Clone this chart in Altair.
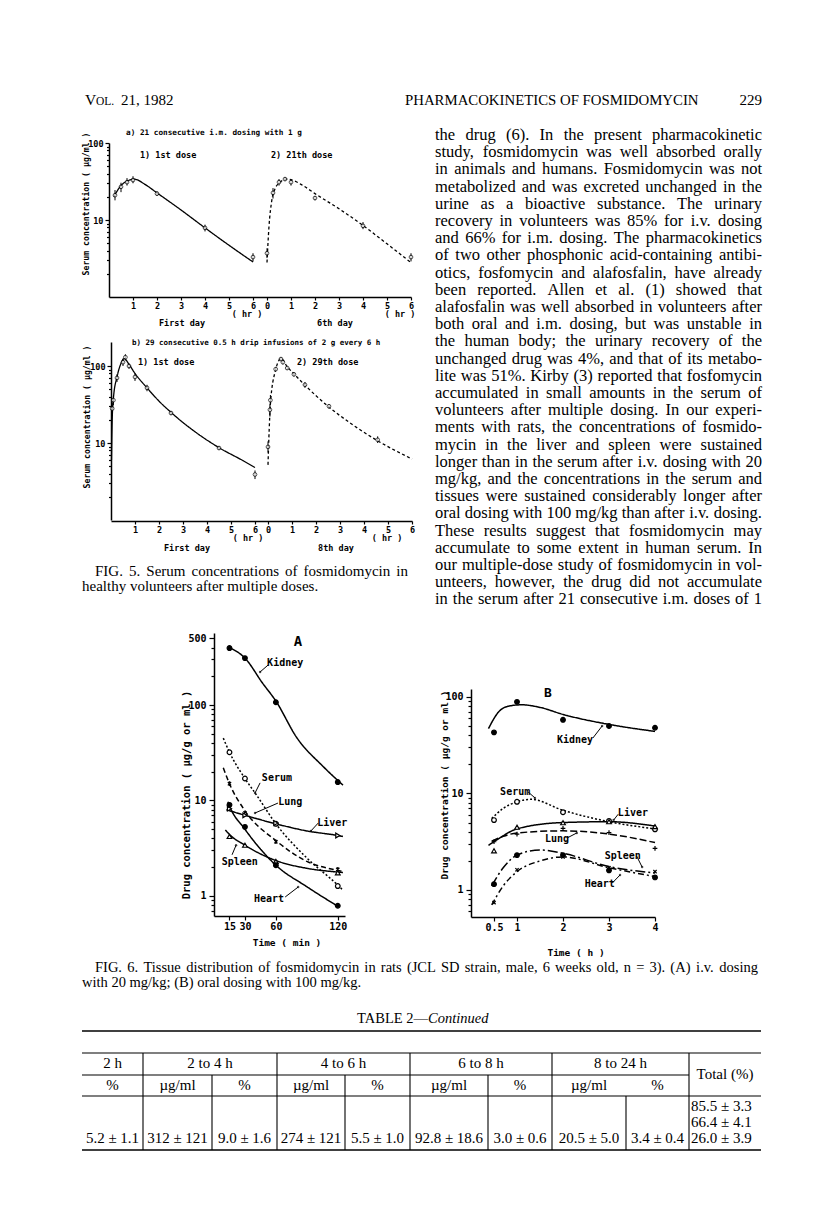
import altair as alt
import pandas as pd
import math

# ============================ DATA ============================
# Fig. 5a - serum (ug/ml) vs time (hr): 21 consecutive i.m. doses of 1 g
f5a_first_t = [0.25, 0.5, 0.75, 1.0, 2.0, 4.0, 6.0]
f5a_first_v = [21, 27, 31, 33, 22, 7.9, 3.3]
f5a_first_lo = [18, 23, 28, 30, 20.5, 7.1, 2.9]
f5a_first_hi = [24.5, 30.5, 35, 37, 23.5, 8.7, 3.7]
f5a_first_fit_t = [0.2, 0.5, 0.8, 1.05, 1.5, 2.0, 3.0, 4.0, 5.0, 6.0]
f5a_first_fit_v = [20, 28, 32.5, 34, 29, 22.5, 13.5, 7.9, 4.7, 2.85]
f5a_last_t = [0.0, 0.25, 0.5, 0.75, 1.0, 2.0, 4.0, 6.0]
f5a_last_v = [3.7, 22.5, 31, 34, 31, 19.3, 8.4, 3.3]
f5a_last_lo = [3.2, 19, 28, 32, 28, 18, 7.6, 2.9]
f5a_last_hi = [4.3, 26, 34, 36, 34, 20.5, 9.4, 3.7]
f5a_last_fit_t = [0.0, 0.08, 0.2, 0.35, 0.55, 0.8, 1.05, 1.5, 2.0, 3.0, 4.0, 5.0, 6.0]
f5a_last_fit_v = [2.8, 8, 18, 26, 31, 34, 33, 28, 22, 14, 8.5, 4.9, 2.8]

# Fig. 5b - 29 consecutive 0.5 h drip infusions of 2 g every 6 h
f5b_first_t = [0.05, 0.1, 0.25, 0.5, 0.6, 0.75, 1.0, 1.5, 2.5, 4.5, 6.0]
f5b_first_v = [28, 36, 70, 112, 130, 100, 72, 52, 24.5, 8.6, 3.9]
f5b_first_lo = [23, 31, 62, 100, 118, 92, 64, 47, 23, 8.1, 3.4]
f5b_first_hi = [33, 41, 78, 124, 142, 108, 80, 57, 26, 9.1, 4.4]
f5b_first_fit_t = [0.02, 0.05, 0.1, 0.25, 0.4, 0.55, 0.75, 1.0, 1.5, 2.0, 2.5, 3.5, 4.5, 5.5, 6.0]
f5b_first_fit_v = [6, 20, 38, 72, 105, 125, 105, 80, 52, 35, 25, 14, 8.7, 5.9, 4.8]
f5b_last_t = [0.0, 0.08, 0.1, 0.32, 0.54, 0.62, 0.8, 1.08, 1.54, 2.54, 4.57]
f5b_last_v = [8.9, 27, 36, 91, 123, 112, 94, 78, 57, 30, 11]
f5b_last_lo = [7.5, 22, 31, 85, 116, 105, 89, 73, 52, 28, 10]
f5b_last_hi = [10.5, 32, 42, 97, 130, 119, 99, 83, 62, 32, 12.2]
f5b_last_fit_t = [0.0, 0.05, 0.1, 0.3, 0.55, 0.8, 1.1, 1.5, 2.5, 3.5, 4.5, 6.0]
f5b_last_fit_v = [5.2, 15, 32, 85, 125, 98, 78, 58, 30, 17.5, 11, 6.2]

# Fig. 6A - i.v. 20 mg/kg, time (min)
f6a_time = [15, 30, 60, 120]
f6a_values = {
    "Kidney": [395, 310, 107, 15.6],
    "Serum": [32, 17, 5.7, 1.27],
    "Lung": [15, 7.4, 3.7, 1.9],
    "Liver": [8.2, 7.0, 5.8, 4.3],
    "Spleen": [4.2, 3.4, 2.3, 1.75],
    "Heart": [9.0, 5.3, 2.1, 0.79],
}
f6a_fit_t = {
    "Kidney": [15, 30, 47, 60, 80, 106, 125],
    "Serum": [9, 15, 30, 41, 60, 90, 120, 125],
    "Lung": [9, 15, 30, 60, 90, 120, 125],
    "Liver": [12, 30, 60, 90, 120, 125],
    "Spleen": [11, 15, 30, 60, 90, 120, 125],
    "Heart": [13.5, 15, 30, 60, 90, 120],
}
f6a_fit_v = {
    "Kidney": [400, 310, 170, 110, 46, 22.6, 14.5],
    "Serum": [45, 32, 17, 11.5, 5.7, 2.5, 1.3, 1.15],
    "Lung": [22, 15, 7.8, 3.8, 2.3, 1.85, 1.8],
    "Liver": [8.0, 7.0, 5.7, 4.8, 4.3, 4.2],
    "Spleen": [4.9, 4.4, 3.4, 2.35, 1.95, 1.78, 1.76],
    "Heart": [9.7, 8.8, 5.0, 2.1, 1.25, 0.78],
}

# Fig. 6B - oral 100 mg/kg, time (h)
f6b_time = [0.5, 1, 2, 3, 4]
f6b_values = {
    "Kidney": [43, 89, 58, 50, 48],
    "Serum": [5.3, 8.2, 6.4, 5.2, 4.25],
    "Liver": [2.55, 4.47, 4.98, 5.1, 4.53],
    "Lung": [3.16, 3.8, 4.35, 3.93, 2.7],
    "Spleen": [1.15, 2.3, 2.3, 1.6, 1.35],
    "Heart": [0.74, 1.62, 2.2, 1.7, 1.55],
}
f6b_fit_t = {
    "Kidney": [0.38, 0.6, 0.8, 1.1, 1.5, 2.0, 3.0, 4.0],
    "Serum": [0.45, 0.7, 1.0, 1.3, 2.0, 3.0, 4.0],
    "Liver": [0.38, 0.6, 1.0, 2.0, 3.0, 4.0],
    "Lung": [0.45, 0.7, 1.0, 2.0, 3.0, 4.0],
    "Spleen": [0.45, 0.7, 1.0, 1.5, 2.0, 3.0, 4.0],
    "Heart": [0.45, 0.7, 1.0, 1.5, 2.0, 3.0, 4.0],
}
f6b_fit_v = {
    "Kidney": [47, 70, 80, 83, 78, 66, 52, 44],
    "Serum": [5.5, 7.0, 8.2, 8.7, 6.7, 5.1, 4.3],
    "Liver": [2.9, 3.4, 4.3, 5.0, 5.1, 4.6],
    "Lung": [3.2, 3.6, 3.9, 4.1, 3.8, 3.1],
    "Spleen": [1.1, 1.7, 2.3, 2.6, 2.4, 1.75, 1.5],
    "Heart": [0.7, 1.1, 1.55, 2.0, 2.2, 1.7, 1.38],
}

# Text
header_left = ["V", "OL.", "21, 1982"]
header_mid = "PHARMACOKINETICS OF FOSMIDOMYCIN"
header_page = "229"
body_lines = [
    "the drug (6). In the present pharmacokinetic",
    "study, fosmidomycin was well absorbed orally",
    "in animals and humans. Fosmidomycin was not",
    "metabolized and was excreted unchanged in the",
    "urine as a bioactive substance. The urinary",
    "recovery in volunteers was 85% for i.v. dosing",
    "and 66% for i.m. dosing. The pharmacokinetics",
    "of two other phosphonic acid-containing antibi-",
    "otics, fosfomycin and alafosfalin, have already",
    "been reported. Allen et al. (1) showed that",
    "alafosfalin was well absorbed in volunteers after",
    "both oral and i.m. dosing, but was unstable in",
    "the human body; the urinary recovery of the",
    "unchanged drug was 4%, and that of its metabo-",
    "lite was 51%. Kirby (3) reported that fosfomycin",
    "accumulated in small amounts in the serum of",
    "volunteers after multiple dosing. In our experi-",
    "ments with rats, the concentrations of fosmido-",
    "mycin in the liver and spleen were sustained",
    "longer than in the serum after i.v. dosing with 20",
    "mg/kg, and the concentrations in the serum and",
    "tissues were sustained considerably longer after",
    "oral dosing with 100 mg/kg than after i.v. dosing.",
    "These results suggest that fosmidomycin may",
    "accumulate to some extent in human serum. In",
    "our multiple-dose study of fosmidomycin in vol-",
    "unteers, however, the drug did not accumulate",
    "in the serum after 21 consecutive i.m. doses of 1",
]
fig5_caption = ["FIG. 5. Serum concentrations of fosmidomycin in",
                "healthy volunteers after multiple doses."]
fig6_caption = ["FIG. 6. Tissue distribution of fosmidomycin in rats (JCL SD strain, male, 6 weeks old, n = 3). (A) i.v. dosing",
                "with 20 mg/kg; (B) oral dosing with 100 mg/kg."]
table_title = ["TABLE 2\u2014", "Continued"]
table_head1 = ["2 h", "2 to 4 h", "4 to 6 h", "6 to 8 h", "8 to 24 h", "Total (%)"]
table_head2 = ["%", "\u00b5g/ml", "%", "\u00b5g/ml", "%", "\u00b5g/ml", "%", "\u00b5g/ml", "%"]
table_row = ["5.2 \u00b1 1.1", "312 \u00b1 121", "9.0 \u00b1 1.6", "274 \u00b1 121", "5.5 \u00b1 1.0",
             "92.8 \u00b1 18.6", "3.0 \u00b1 0.6", "20.5 \u00b1 5.0", "3.4 \u00b1 0.4"]
table_total = ["85.5 \u00b1 3.3", "66.4 \u00b1 4.1", "26.0 \u00b1 3.9"]

# ============================ LAYOUT ============================
W, H = 800, 1194
MARGIN = 8
def X(p): return p - MARGIN
def Y(p): return p - MARGIN

MONO = "DejaVu Sans Mono"
SERIF = "Liberation Serif"
PLAIN = "'' + datum.value"

TIMES = {}
for ch, w in zip("abcdefghijklmnopqrstuvwxyz",
                 [444, 500, 444, 500, 444, 333, 500, 500, 278, 278, 500, 278, 778, 500, 500, 500, 500, 333, 389, 278, 500, 500, 722, 500, 500, 444]):
    TIMES[ch] = w
for ch, w in zip("ABCDEFGHIJKLMNOPQRSTUVWXYZ",
                 [722, 667, 667, 722, 611, 556, 722, 722, 333, 389, 722, 611, 889, 722, 722, 556, 722, 667, 556, 611, 722, 722, 944, 722, 722, 611]):
    TIMES[ch] = w
for ch in "0123456789":
    TIMES[ch] = 500
TIMES.update({' ': 250, '.': 250, ',': 250, ';': 278, ':': 278, '(': 333, ')': 333, '-': 333,
              '%': 833, '/': 278, '=': 564, '\u00b1': 564, '\u00b5': 500, '\u2014': 1000})

def tw(s, fs):
    return sum(TIMES.get(c, 500) for c in s) * fs / 1000.0

def line_rows(text, x0, x1, y, fs, justify=True):
    words = text.split(' ')
    if not justify or len(words) == 1:
        return [dict(w=text, x=X(x0), y=Y(y), a='left')]
    widths = [tw(w, fs) for w in words]
    gap = (x1 - x0 - sum(widths)) / (len(words) - 1)
    rows, cur = [], x0
    for i, (w, wd) in enumerate(zip(words, widths)):
        if i == 0:
            rows.append(dict(w=w, x=X(x0), y=Y(y), a='left'))
        elif i == len(words) - 1:
            rows.append(dict(w=w, x=X(x1), y=Y(y), a='right'))
        else:
            rows.append(dict(w=w, x=X(cur + wd / 2), y=Y(y), a='center'))
        cur += wd + gap
    return rows

def text_layers(rows, font, size, weight='normal', style='normal'):
    df = pd.DataFrame(rows)
    out = []
    for a in ['left', 'center', 'right']:
        sub = df[df['a'] == a]
        if len(sub) == 0:
            continue
        out.append(alt.Chart(sub).mark_text(align=a, baseline='alphabetic', font=font, fontSize=size,
                                            fontWeight=weight, fontStyle=style, color='black')
                   .encode(x=alt.X('x:Q', scale=None, axis=None),
                           y=alt.Y('y:Q', scale=None, axis=None),
                           text='w:N'))
    return out

def tx(text, x, y, size, font=MONO, align='center', weight='bold', angle=0, style='normal', baseline='middle'):
    return (alt.Chart(pd.DataFrame({'t': [text]}))
            .mark_text(align=align, baseline=baseline, font=font, fontSize=size, fontWeight=weight,
                       fontStyle=style, angle=angle, color='black')
            .encode(text='t:N', x=alt.value(X(x)), y=alt.value(Y(y))))

def bottom_axis(y_page, values, fs, tick=3, pad=1, expr=PLAIN):
    return alt.Axis(orient='bottom', offset=Y(y_page) - H, values=values, title=None, tickSize=tick,
                    labelPadding=pad, labelFontSize=fs, domainWidth=1.5, tickWidth=1.2, labelExpr=expr)

def left_axis(x_page, values, fs, tick=4, pad=2, labels=True, domain=True):
    return alt.Axis(orient='left', offset=-X(x_page), values=values, title=None, tickSize=tick,
                    labelPadding=pad, labelFontSize=fs, labels=labels, domain=domain,
                    domainWidth=1.5, tickWidth=1.2, labelExpr=PLAIN)

layers = []

# ----------------------------- header ---------------------------
layers.append(tx(header_left[0], 85, 105, 15.5, font=SERIF, align='left', weight='normal', baseline='alphabetic'))
layers.append(tx(header_left[1], 96, 105, 11.5, font=SERIF, align='left', weight='normal', baseline='alphabetic'))
layers.append(tx(header_left[2], 121, 105, 15, font=SERIF, align='left', weight='normal', baseline='alphabetic'))
layers.append(tx(header_mid, 405, 105, 14.8, font=SERIF, align='left', weight='normal', baseline='alphabetic'))
layers.append(tx(header_page, 762, 105, 15, font=SERIF, align='right', weight='normal', baseline='alphabetic'))

# ----------------------------- body text ------------------------
body_rows = []
for i, line in enumerate(body_lines):
    body_rows += line_rows(line, 435, 762, 140 + i * 17.2, 16.5)
layers += text_layers(body_rows, SERIF, 16.5)

# ----------------------------- Fig. 5 ---------------------------
def fig5(first, last, x0, day2, y1, dec, ymax, yaxis_x, xaxis_y):
    (ft, fv, flo, fhi, fft, ffv) = first
    (lt, lv, llo, lhi, lft, lfv) = last
    off = (day2 - x0) / 24.0
    xmax = off + 6
    xs = alt.Scale(domain=[0, xmax], range=[X(x0), X(x0 + xmax * 24)], nice=False, zero=False)
    ytop = y1 - math.log10(ymax) * dec
    ys = alt.Scale(type='log', domain=[1, ymax], range=[Y(y1), Y(ytop)], nice=False)
    fit = pd.concat([
        pd.DataFrame({'seg': 'first', 't': fft, 'v': ffv}),
        pd.DataFrame({'seg': 'last', 't': lft, 'v': lfv})])
    fit['tt'] = fit['t'] + fit['seg'].map({'first': 0.0, 'last': off})
    pts = pd.concat([
        pd.DataFrame({'seg': 'first', 't': ft, 'v': fv, 'lo': flo, 'hi': fhi}),
        pd.DataFrame({'seg': 'last', 't': lt, 'v': lv, 'lo': llo, 'hi': lhi})])
    pts['tt'] = pts['t'] + pts['seg'].map({'first': 0.0, 'last': off})
    ticks = [1, 2, 3, 4, 5, 6] + [off + k for k in range(7)]
    expr = f"datum.value > 6.2 ? '' + round(datum.value - {off:.4f}) : '' + round(datum.value)"
    out = []
    out.append(alt.Chart(fit).mark_line(interpolate='monotone', color='black', strokeWidth=1.3).encode(
        x=alt.X('tt:Q', scale=xs, axis=bottom_axis(xaxis_y, ticks, 8.5, tick=3, pad=1, expr=expr)),
        y=alt.Y('v:Q', scale=ys, axis=left_axis(yaxis_x, [10, 100], 8.5, tick=4, pad=2)),
        detail='seg:N',
        strokeDash=alt.StrokeDash('seg:N', scale=alt.Scale(domain=['first', 'last'], range=[[1, 0], [3, 2.5]]), legend=None)))
    out.append(alt.Chart(pts).mark_rule(color='black', strokeWidth=1).encode(
        x=alt.X('tt:Q', scale=xs, axis=None), y=alt.Y('lo:Q', scale=ys, axis=None), y2='hi:Q'))
    out.append(alt.Chart(pts).mark_point(shape='circle', size=14, color='black', fill='white', filled=True,
                                         stroke='black', strokeWidth=1).encode(
        x=alt.X('tt:Q', scale=xs, axis=None), y=alt.Y('v:Q', scale=ys, axis=None)))
    minor = [2, 3, 4, 5, 6, 7, 8, 9, 20, 30, 40, 50, 60, 70, 80, 90]
    out.append(alt.Chart(pts).mark_point(opacity=0).encode(
        x=alt.X('tt:Q', scale=xs, axis=None),
        y=alt.Y('v:Q', scale=ys, axis=left_axis(yaxis_x, minor, 8, tick=2.5, labels=False, domain=False))))
    return out

layers += fig5((f5a_first_t, f5a_first_v, f5a_first_lo, f5a_first_hi, f5a_first_fit_t, f5a_first_fit_v),
               (f5a_last_t, f5a_last_v, f5a_last_lo, f5a_last_hi, f5a_last_fit_t, f5a_last_fit_v),
               x0=109, day2=267, y1=297, dec=77, ymax=100, yaxis_x=109, xaxis_y=297)
layers += fig5((f5b_first_t, f5b_first_v, f5b_first_lo, f5b_first_hi, f5b_first_fit_t, f5b_first_fit_v),
               (f5b_last_t, f5b_last_v, f5b_last_lo, f5b_last_hi, f5b_last_fit_t, f5b_last_fit_v),
               x0=111, day2=268, y1=520, dec=77, ymax=205, yaxis_x=111, xaxis_y=521)

layers += [
    tx("a)  21 consecutive i.m. dosing with 1 g", 126, 133, 7.7, align='left'),
    tx("1) 1st dose", 140, 155, 8.5, align='left'),
    tx("2) 21th dose", 271, 155, 8.5, align='left'),
    tx("( hr )", 247, 314, 8.5), tx("( hr )", 400, 314, 8.5),
    tx("First day", 182, 323, 8.5), tx("6th day", 335, 323, 8.5),
    tx("Serum concentration ( \u00b5g/ml )", 87, 204, 8.2, angle=270),
    tx("b)  29 consecutive 0.5 h drip infusions of 2 g every 6 h", 132, 343, 7.5, align='left'),
    tx("1) 1st dose", 138, 362, 8.5, align='left'),
    tx("2) 29th dose", 297, 362, 8.5, align='left'),
    tx("( hr )", 248, 538, 8.5), tx("( hr )", 387, 538, 8.5),
    tx("First day", 187, 548, 8.5), tx("8th day", 336, 548, 8.5),
    tx("Serum concentration ( \u00b5g/ml )", 88, 417, 8.2, angle=270),
]
cap5 = line_rows(fig5_caption[0], 95, 408, 576, 15) + line_rows(fig5_caption[1], 82, 408, 591, 15, justify=False)
layers += text_layers(cap5, SERIF, 15)

# ----------------------------- Fig. 6 ---------------------------
X_SHAPE = "M-0.7,-0.7L0.7,0.7M-0.7,0.7L0.7,-0.7"
AST_SHAPE = "M-0.7,-0.7L0.7,0.7M-0.7,0.7L0.7,-0.7M0,-1L0,1"
PLUS_SHAPE = "M-1,0L1,0M0,-1L0,1"

def fig6(times, values, fit_t, fit_v, xs, ys, xaxis, yaxis, yminor, dash, shape, fill, labels, leaders):
    order = list(values.keys())
    pts = pd.concat([pd.DataFrame({'s': s, 't': times, 'v': values[s]}) for s in order])
    fit = pd.concat([pd.DataFrame({'s': s, 't': fit_t[s], 'v': fit_v[s]}) for s in order])
    out = []
    out.append(alt.Chart(fit).mark_line(interpolate='monotone', color='black', strokeWidth=1.5).encode(
        x=alt.X('t:Q', scale=xs, axis=xaxis), y=alt.Y('v:Q', scale=ys, axis=yaxis), detail='s:N',
        strokeDash=alt.StrokeDash('s:N', scale=alt.Scale(domain=order, range=[dash[s] for s in order]), legend=None)))
    out.append(alt.Chart(pts).mark_point(size=22, stroke='black', strokeWidth=1.2, opacity=1, filled=True).encode(
        x=alt.X('t:Q', scale=xs, axis=None), y=alt.Y('v:Q', scale=ys, axis=None),
        shape=alt.Shape('s:N', scale=alt.Scale(domain=order, range=[shape[s] for s in order]), legend=None),
        fill=alt.Fill('s:N', scale=alt.Scale(domain=order, range=[fill[s] for s in order]), legend=None)))
    out.append(alt.Chart(pts).mark_point(opacity=0).encode(
        x=alt.X('t:Q', scale=xs, axis=None), y=alt.Y('v:Q', scale=ys, axis=yminor)))
    lab = pd.DataFrame([dict(s=s, t=labels[s][0], v=labels[s][1]) for s in order])
    out.append(alt.Chart(lab).mark_text(font=MONO, fontSize=10, fontWeight='bold', color='black').encode(
        x=alt.X('t:Q', scale=xs, axis=None), y=alt.Y('v:Q', scale=ys, axis=None), text='s:N'))
    ld = pd.DataFrame([dict(s=s, t1=leaders[s][0], v1=leaders[s][1], t2=leaders[s][2], v2=leaders[s][3]) for s in order])
    out.append(alt.Chart(ld).mark_rule(color='black', strokeWidth=1).encode(
        x=alt.X('t1:Q', scale=xs, axis=None), x2='t2:Q',
        y=alt.Y('v1:Q', scale=ys, axis=None), y2='v2:Q'))
    out.append(alt.Chart(ld).mark_point(shape='circle', size=6, filled=True, color='black').encode(
        x=alt.X('t2:Q', scale=xs, axis=None), y=alt.Y('v2:Q', scale=ys, axis=None)))
    return out

# panel A geometry (page px): x 0 min at 214, 1.03 px/min; y decade 95.5 px, 1 at 896
xsA = alt.Scale(domain=[0, 127], range=[X(214), X(345)], nice=False, zero=False)
ysA = alt.Scale(type='log', domain=[0.617, 568], range=[Y(916), Y(633)], nice=False)
minorA = [0.7, 0.8, 0.9, 2, 3, 4, 5, 6, 7, 8, 9, 20, 30, 40, 50, 60, 70, 80, 90, 200, 300, 400]
layers += fig6(f6a_time, f6a_values, f6a_fit_t, f6a_fit_v, xsA, ysA,
               bottom_axis(916, [15, 30, 60, 120], 10, tick=4, pad=1),
               left_axis(214, [1, 10, 100, 500], 10, tick=5, pad=3),
               left_axis(214, minorA, 10, tick=3, labels=False, domain=False),
               dash={"Kidney": [1, 0], "Serum": [2, 2], "Lung": [5, 3], "Liver": [1, 0], "Spleen": [1, 0], "Heart": [1, 0]},
               shape={"Kidney": "circle", "Serum": "circle", "Lung": AST_SHAPE, "Liver": "triangle-right",
                      "Spleen": "triangle-up", "Heart": "circle"},
               fill={"Kidney": "black", "Serum": "white", "Lung": "white", "Liver": "white", "Spleen": "white", "Heart": "black"},
               labels={"Kidney": (69, 275), "Serum": (61, 17.2), "Lung": (74, 9.6), "Liver": (114.6, 5.8),
                       "Spleen": (25, 2.27), "Heart": (53.4, 0.93)},
               leaders={"Kidney": (52.4, 262, 44.7, 222), "Serum": (44.7, 15.3, 39.8, 12), "Lung": (62, 9.4, 39.8, 7.4),
                        "Liver": (101, 5.8, 94, 4.8), "Spleen": (17.5, 2.7, 21.4, 3.4), "Heart": (69, 0.976, 81.6, 1.24)})

# panel B geometry: x 0 h at 471, 46 px/h; y decade 96.5 px, 1 at 890
xsB = alt.Scale(domain=[0, 4], range=[X(471), X(655)], nice=False, zero=False)
ysB = alt.Scale(type='log', domain=[0.525, 121], range=[Y(917), Y(689)], nice=False)
minorB = [0.6, 0.7, 0.8, 0.9, 2, 3, 4, 5, 6, 7, 8, 9, 20, 30, 40, 50, 60, 70, 80, 90]
layers += fig6(f6b_time, f6b_values, f6b_fit_t, f6b_fit_v, xsB, ysB,
               bottom_axis(917, [0.5, 1, 2, 3, 4], 10, tick=4, pad=1),
               left_axis(471, [1, 10, 100], 10, tick=5, pad=3),
               left_axis(471, minorB, 10, tick=3, labels=False, domain=False),
               dash={"Kidney": [1, 0], "Serum": [2, 2], "Liver": [1, 0], "Lung": [7, 3], "Spleen": [10, 3, 2, 3], "Heart": [6, 3, 2, 3]},
               shape={"Kidney": "circle", "Serum": "circle", "Liver": "triangle-up", "Lung": PLUS_SHAPE,
                      "Spleen": "circle", "Heart": X_SHAPE},
               fill={"Kidney": "black", "Serum": "white", "Liver": "white", "Lung": "white", "Spleen": "black", "Heart": "white"},
               labels={"Kidney": (2.26, 35.8), "Serum": (0.96, 10.4), "Liver": (3.52, 6.3), "Lung": (1.87, 3.4),
                       "Spleen": (3.3, 2.25), "Heart": (2.8, 1.15)},
               leaders={"Kidney": (2.65, 37.6, 2.85, 50), "Serum": (1.24, 10.4, 1.39, 9.0), "Liver": (3.2, 6.1, 3.1, 5.3),
                        "Lung": (2.09, 3.46, 2.3, 3.9), "Spleen": (3.6, 2.25, 3.72, 1.73), "Heart": (3.07, 1.18, 3.24, 1.43)})

layers += [
    tx("A", 298, 642, 14),
    tx("B", 548, 693, 13),
    tx("Time ( min )", 287, 943, 9.5),
    tx("Time ( h )", 576, 953, 9.5),
    tx("Drug concentration ( \u00b5g/g or ml )", 187, 795, 10.5, angle=270),
    tx("Drug concentration ( \u00b5g/g or ml )", 445, 785, 9.5, angle=270),
]
cap6 = line_rows(fig6_caption[0], 95, 758, 972, 14.5) + line_rows(fig6_caption[1], 82, 758, 987, 14.5, justify=False)
layers += text_layers(cap6, SERIF, 14.5)

# ----------------------------- Table 2 ---------------------------
layers.append(tx(table_title[0], 428, 1023, 14.5, font=SERIF, align='right', weight='normal', baseline='alphabetic'))
layers.append(tx(table_title[1], 428, 1023, 14.5, font=SERIF, align='left', weight='normal', style='italic', baseline='alphabetic'))

edges = [82, 143, 212, 277, 345, 410, 488, 552, 626, 689, 761]
spans1 = [(0, 1), (1, 3), (3, 5), (5, 7), (7, 9), (9, 10)]
cells = []
for txt, (a, b) in zip(table_head1, spans1):
    yc = 1074 if txt.startswith("Total") else 1063
    cells.append(dict(w=txt, x=X((edges[a] + edges[b]) / 2), y=Y(yc + 5), a='center'))
for k, txt in enumerate(table_head2):
    cells.append(dict(w=txt, x=X((edges[k] + edges[k + 1]) / 2), y=Y(1085 + 5), a='center'))
for k, txt in enumerate(table_row):
    cells.append(dict(w=txt, x=X((edges[k] + edges[k + 1]) / 2), y=Y(1138 + 5), a='center'))
for k, txt in enumerate(table_total):
    cells.append(dict(w=txt, x=X(691), y=Y(1106 + 16 * k + 5), a='left'))
layers += text_layers(cells, SERIF, 15)

hrules = pd.DataFrame([dict(x1=X(82), x2=X(761), y=Y(1031), sw=1.6), dict(x1=X(82), x2=X(761), y=Y(1053), sw=1.1),
                       dict(x1=X(82), x2=X(689), y=Y(1075), sw=1.1), dict(x1=X(82), x2=X(761), y=Y(1096), sw=1.1),
                       dict(x1=X(82), x2=X(761), y=Y(1150), sw=1.5)])
vrules = pd.DataFrame([dict(x=X(xx), y1=Y(1053), y2=Y(1150)) for xx in [143, 277, 410, 552, 689]] +
                      [dict(x=X(xx), y1=Y(1075), y2=Y(1150)) for xx in [212, 345, 488]] +
                      [dict(x=X(626), y1=Y(1096), y2=Y(1150))])
layers.append(alt.Chart(hrules).mark_rule(color='black').encode(
    x=alt.X('x1:Q', scale=None, axis=None), x2='x2:Q', y=alt.Y('y:Q', scale=None, axis=None),
    strokeWidth=alt.StrokeWidth('sw:Q', scale=None)))
layers.append(alt.Chart(vrules).mark_rule(color='black', strokeWidth=1.1).encode(
    x=alt.X('x:Q', scale=None, axis=None), y=alt.Y('y1:Q', scale=None, axis=None), y2='y2:Q'))

chart = (alt.layer(*layers)
         .resolve_scale(x='independent', y='independent', strokeDash='independent',
                        shape='independent', fill='independent')
         .resolve_axis(x='independent', y='independent')
         .properties(width=W, height=H, padding=0, autosize=alt.AutoSizeParams(type='none'), background='white')
         .configure_view(stroke=None)
         .configure_axis(grid=False, domainColor='black', tickColor='black', labelColor='black',
                         labelFont=MONO, labelFontWeight='bold', labelFlush=False, labelOverlap=False))

chart.save("out.html", embed_options={"renderer": "svg", "actions": False})
